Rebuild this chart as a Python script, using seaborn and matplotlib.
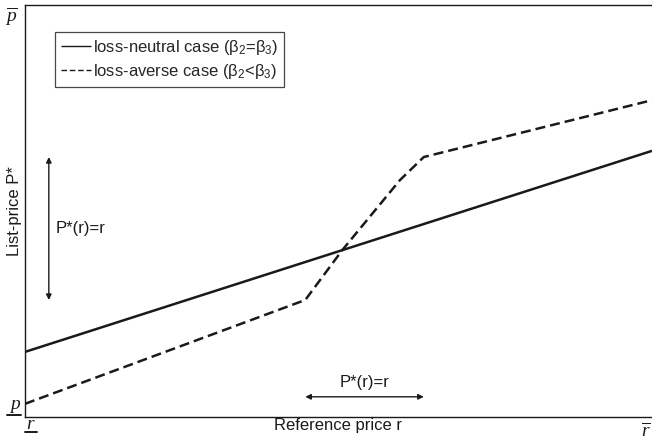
import matplotlib
matplotlib.use("Agg")
import numpy as np
import pandas as pd
import seaborn as sns
import matplotlib.pyplot as plt

# reference price r (0 = lower bound, 1 = upper bound) and list price P*
r_neutral = [0.0, 1.0]
p_neutral = [0.158, 0.646]

r_averse = [0.0, 0.447, 0.506, 0.598, 0.636, 1.0]
p_averse = [0.032, 0.284, 0.405, 0.575, 0.631, 0.769]

# ranges where P*(r)=r holds for the loss-averse case
r_range = [0.447, 0.636]
p_range = [0.284, 0.631]

labels = ["loss-neutral case (β$_2$=β$_3$)", "loss-averse case (β$_2$<β$_3$)"]

sns.set_theme(style="white")
plt.rcParams["font.family"] = ["Liberation Sans", "DejaVu Sans"]
plt.rcParams["mathtext.fontset"] = "custom"
plt.rcParams["mathtext.rm"] = "Liberation Sans"
plt.rcParams["mathtext.it"] = "Liberation Serif:italic"

ink = "#1a1a1a"
fs = 12

df = pd.concat([
    pd.DataFrame({"r": r_neutral, "p": p_neutral, "case": labels[0]}),
    pd.DataFrame({"r": r_averse, "p": p_averse, "case": labels[1]}),
])

fig = plt.figure(figsize=(6.52, 4.43), dpi=100)
ax = fig.add_axes([25 / 652, 26 / 443, 627 / 652, 412 / 443])

sns.lineplot(data=df, x="r", y="p", hue="case", style="case",
             palette=[ink, ink], dashes=[(1, 0), (4, 2)],
             linewidth=1.8, ax=ax, sort=False, estimator=None)

ax.set_xlim(0, 1)
ax.set_ylim(0, 1)
ax.set_xticks([])
ax.set_yticks([])
for side in ["left", "bottom", "top"]:
    ax.spines[side].set_color(ink)
    ax.spines[side].set_linewidth(1.0)
ax.spines["right"].set_visible(False)

ax.set_xlabel("Reference price r", fontsize=fs, color=ink, labelpad=1)
ax.set_ylabel("List-price P*", fontsize=fs, color=ink, labelpad=2)

# bound labels (under-/overlined)
ax.text(-0.022, 1.0, r"$\overline{p}$", transform=ax.transAxes, fontsize=14,
        ha="center", va="top", color=ink)
ax.text(-0.016, 0.019, r"$p$", transform=ax.transAxes, fontsize=14,
        ha="center", va="baseline", color=ink)
ax.plot([-0.029, -0.006], [0.004, 0.004], transform=ax.transAxes, color=ink,
        lw=1.4, clip_on=False)
ax.text(0.009, -0.029, r"$r$", transform=ax.transAxes, fontsize=14,
        ha="center", va="baseline", color=ink)
ax.plot([0.0, 0.019], [-0.036, -0.036], transform=ax.transAxes, color=ink,
        lw=1.4, clip_on=False)
ax.text(0.99, -0.012, r"$\overline{r}$", transform=ax.transAxes, fontsize=14,
        ha="center", va="top", color=ink)

# arrows marking the P*(r)=r ranges
arrow = dict(arrowstyle="<|-|>", color=ink, lw=1.0,
             mutation_scale=8, shrinkA=0, shrinkB=0)
ax.annotate("", xy=(0.038, p_range[1]), xytext=(0.038, p_range[0]), arrowprops=arrow)
ax.text(0.049, np.mean(p_range), "P*(r)=r", fontsize=fs, ha="left", va="center",
        color=ink)
ax.annotate("", xy=(r_range[0], 0.049), xytext=(r_range[1], 0.049), arrowprops=arrow)
ax.text(np.mean(r_range), 0.065, "P*(r)=r", fontsize=fs, ha="center", va="bottom",
        color=ink)

leg = ax.legend(loc="upper left", bbox_to_anchor=(0.048, 0.934), borderaxespad=0,
                fontsize=fs, handlelength=1.8, handletextpad=0.1,
                fancybox=False, frameon=True, borderpad=0.35, labelspacing=0.3)
leg.get_frame().set_edgecolor(ink)
leg.get_frame().set_linewidth(0.9)
for line in leg.get_lines():
    line.set_linewidth(1.0)

fig.savefig("out.png", dpi=100)
